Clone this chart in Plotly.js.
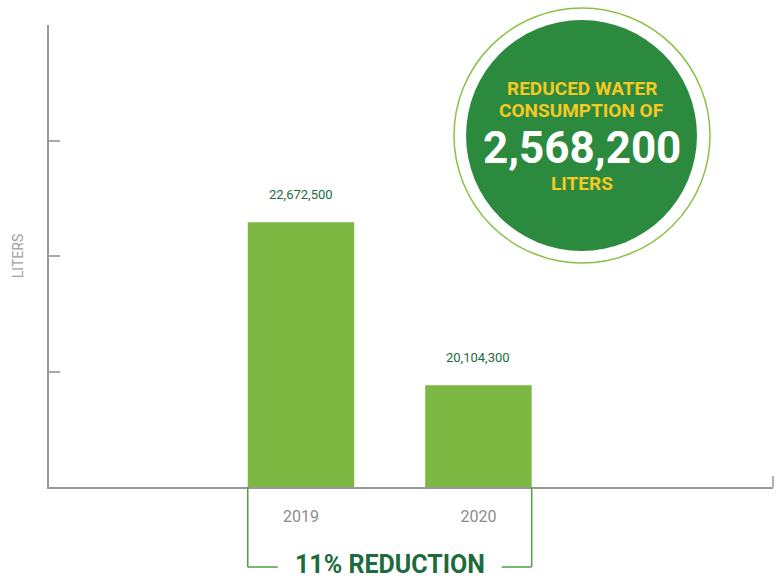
<!DOCTYPE html>
<html>
<head>
<meta charset="utf-8">
<script src="https://cdn.plot.ly/plotly-3.0.1.min.js"></script>
<style>html,body{margin:0;padding:0;background:#fff;}#chart{width:781px;height:581px;}</style>
</head>
<body>
<div id="chart"></div>
<script>
const years = ["2019", "2020"];
const liters = [22672500, 20104300];
const valueLabels = ["22,672,500", "20,104,300"];
const reductionText = "11% REDUCTION";
const badgeLines = ["REDUCED WATER", "CONSUMPTION OF", "2,568,200", "LITERS"];

const barColor = "#7db842";
const darkGreen = "#1d6b3c";

const trace = {
  type: "bar",
  x: years,
  y: liters,
  width: 0.6,
  marker: {color: barColor},
  hoverinfo: "x+y"
};

const annotations = years.map((yr, i) => ({
  x: i, y: liters[i], xref: "x", yref: "y",
  text: valueLabels[i], showarrow: false,
  xanchor: "center", yanchor: "bottom", yshift: 18,
  font: {family: "Roboto", size: 13, color: darkGreen}
}));

const bracketY = -0.1732;
annotations.push({
  x: 0.5, y: -0.1688, xref: "x", yref: "paper",
  text: "<b>" + reductionText + "</b>", showarrow: false,
  xanchor: "center", yanchor: "middle", borderpad: 0,
  font: {family: "Roboto", size: 25, color: darkGreen}
});

const cx = 0.736;
const badgeY = [0.8636, 0.816, 0.7338, 0.658];
const badgeSizes = [19, 19, 44, 19];
const badgeColors = ["#f6c823", "#f6c823", "#ffffff", "#f6c823"];
badgeLines.forEach((t, i) => annotations.push({
  x: cx, y: badgeY[i], xref: "paper", yref: "paper",
  text: "<b>" + t + "</b>", showarrow: false,
  xanchor: "center", yanchor: "middle",
  font: {family: "Roboto", size: badgeSizes[i], color: badgeColors[i]}
}));

const bracketColor = "#4ea043";
const shapes = [
  {type: "line", xref: "x", yref: "paper", x0: -0.3, x1: -0.3, y0: 0, y1: bracketY, line: {color: bracketColor, width: 1.5}},
  {type: "line", xref: "x", yref: "paper", x0: -0.3, x1: -0.131, y0: bracketY, y1: bracketY, line: {color: bracketColor, width: 1.5}},
  {type: "line", xref: "x", yref: "paper", x0: 1.3, x1: 1.3, y0: 0, y1: bracketY, line: {color: bracketColor, width: 1.5}},
  {type: "line", xref: "x", yref: "paper", x0: 1.131, x1: 1.3, y0: bracketY, y1: bracketY, line: {color: bracketColor, width: 1.5}},
  {type: "line", xref: "paper", yref: "paper", x0: 1, x1: 1, y0: 0, y1: 0.024, line: {color: "#999", width: 1.5}},
  {type: "circle", xref: "paper", yref: "paper", x0: 0.5594, x1: 0.913, y0: 0.4848, y1: 1.0368, line: {color: "#8cc04a", width: 1.5}, fillcolor: "rgba(0,0,0,0)"},
  {type: "circle", xref: "paper", yref: "paper", x0: 0.576, x1: 0.895, y0: 0.5108, y1: 1.0108, line: {width: 0}, fillcolor: "#2b8a3e"}
];

const layout = {
  width: 781, height: 581,
  margin: {l: 49, r: 8, t: 25, b: 94},
  paper_bgcolor: "#fff", plot_bgcolor: "#fff",
  showlegend: false,
  xaxis: {
    type: "category", range: [-1.42, 2.66],
    showline: true, linecolor: "#999", linewidth: 1.5,
    showgrid: false, zeroline: false, ticks: "",
    ticklabelstandoff: 14,
    tickfont: {family: "Roboto", size: 16, color: "#8c8c8c"}
  },
  yaxis: {
    range: [18500000, 25780000],
    tickmode: "linear", tick0: 18500000, dtick: 1820000,
    ticks: "inside", ticklen: 11, tickcolor: "#aaa", tickwidth: 1.5,
    showticklabels: false, showgrid: false, zeroline: false,
    showline: true, linecolor: "#999", linewidth: 1.5,
    title: {text: "LITERS", standoff: 20, font: {family: "Roboto", size: 14, color: "#a0a0a0"}}
  },
  annotations: annotations,
  shapes: shapes
};

Plotly.newPlot("chart", [trace], layout, {displayModeBar: false});
</script>
</body>
</html>
